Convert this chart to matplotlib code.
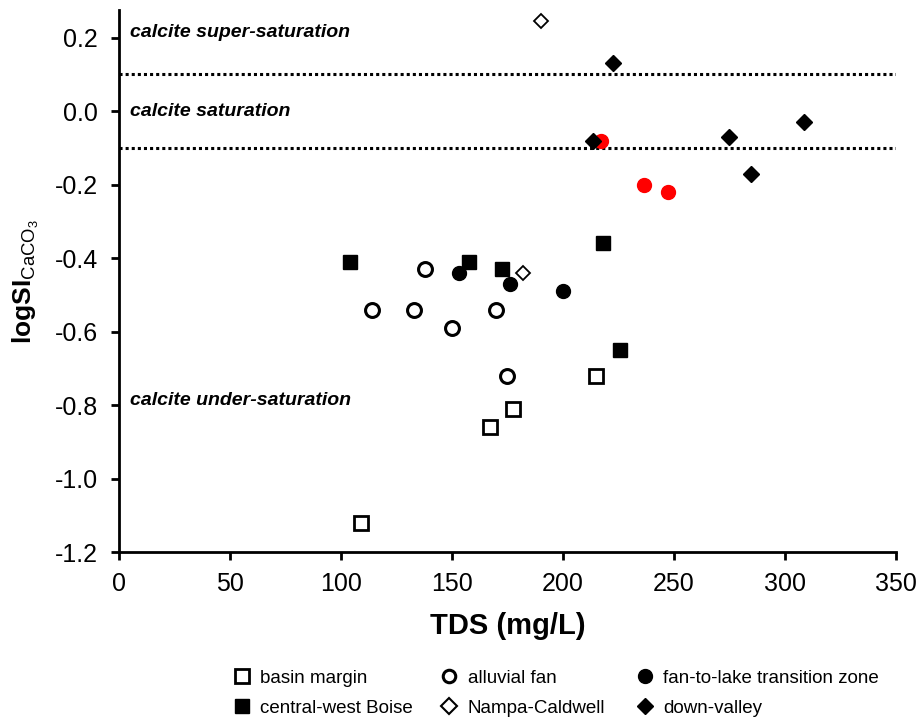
import matplotlib.pyplot as plt
from matplotlib.lines import Line2D

plt.rcParams['font.family'] = ['Liberation Sans', 'DejaVu Sans']
plt.rcParams['mathtext.fontset'] = 'custom'
plt.rcParams['mathtext.rm'] = 'Liberation Sans'
plt.rcParams['mathtext.bf'] = 'Liberation Sans:bold'

# TDS (mg/L) and logSI CaCO3 per group
basin_x = [109, 167, 177.5, 215]
basin_y = [-1.12, -0.86, -0.81, -0.72]
boise_x = [104, 157.5, 172.5, 218, 225.5]
boise_y = [-0.41, -0.41, -0.43, -0.36, -0.65]
fan_x = [114, 133, 138, 150, 170, 175]
fan_y = [-0.54, -0.54, -0.43, -0.59, -0.54, -0.72]
lake_x = [153, 176, 200]
lake_y = [-0.44, -0.47, -0.49]
lake_red_x = [217, 236.5, 247.5]
lake_red_y = [-0.08, -0.20, -0.22]
nampa_x = [190, 182]
nampa_y = [0.245, -0.44]
valley_x = [222.5, 213.5, 275, 284.5, 308.5]
valley_y = [0.13, -0.08, -0.07, -0.17, -0.03]

sat_upper = 0.1
sat_lower = -0.1

fig = plt.figure(figsize=(9.18, 7.19), dpi=100)
ax = fig.add_axes([0.1296, 0.232, 0.8464, 0.754])

ax.axhline(sat_upper, color='black', linestyle=(0, (1, 1)), linewidth=2.2, zorder=1)
ax.axhline(sat_lower, color='black', linestyle=(0, (1, 1)), linewidth=2.2, zorder=1)

ax.plot(basin_x, basin_y, 's', ms=9.5, mfc='white', mec='black', mew=2, ls='none')
ax.plot(boise_x, boise_y, 's', ms=9.5, color='black', ls='none')
ax.plot(fan_x, fan_y, 'o', ms=10, mfc='white', mec='black', mew=2.2, ls='none')
ax.plot(lake_x, lake_y, 'o', ms=10, color='black', ls='none')
ax.plot(lake_red_x, lake_red_y, 'o', ms=10, color='red', ls='none', zorder=2)
ax.plot(nampa_x, nampa_y, 'D', ms=7.5, mfc='white', mec='black', mew=1.3, ls='none')
ax.plot(valley_x, valley_y, 'D', ms=8.5, color='black', ls='none', zorder=3)

note_kw = dict(fontsize=14, fontweight='bold', fontstyle='italic', va='center')
ax.text(5, 0.213, 'calcite super-saturation', **note_kw)
ax.text(5, -0.002, 'calcite saturation', **note_kw)
ax.text(5, -0.787, 'calcite under-saturation', **note_kw)

yticks = [-1.2, -1.0, -0.8, -0.6, -0.4, -0.2, 0.0, 0.2]
ax.set_xlim(0, 350)
ax.set_ylim(-1.2, 0.275)
ax.set_xticks(range(0, 351, 50))
ax.set_yticks(yticks)
ax.set_yticklabels(['%.1f' % v for v in yticks])
ax.tick_params(labelsize=18, width=2, length=6, direction='out')
ax.tick_params(axis='x', pad=8)
ax.tick_params(axis='y', pad=9)
for s in ['top', 'right']:
    ax.spines[s].set_visible(False)
for s in ['left', 'bottom']:
    ax.spines[s].set_linewidth(2)

ax.set_xlabel('TDS (mg/L)', fontsize=21, fontweight='bold', labelpad=12)
ax.set_ylabel(r'$\mathbf{logSI}_{\mathrm{CaCO_3}}$', fontsize=19, labelpad=10)

# legend: three columns, two rows each
leg_cols = [
    ([Line2D([], [], marker='s', ms=10.5, mfc='white', mec='black', mew=2, ls='none'),
      Line2D([], [], marker='s', ms=10.5, color='black', ls='none')],
     ['basin margin', 'central-west Boise'], 0.255),
    ([Line2D([], [], marker='o', ms=9, mfc='white', mec='black', mew=2.2, ls='none'),
      Line2D([], [], marker='D', ms=8, mfc='white', mec='black', mew=1.5, ls='none')],
     ['alluvial fan', 'Nampa-Caldwell'], 0.481),
    ([Line2D([], [], marker='o', ms=10, color='black', ls='none'),
      Line2D([], [], marker='D', ms=8, color='black', ls='none')],
     ['fan-to-lake transition zone', 'down-valley'], 0.694),
]
for hs, ls, xpos in leg_cols:
    fig.legend(hs, ls, loc='upper left', bbox_to_anchor=(xpos, 0.069),
               frameon=False, fontsize=13.5, handlelength=0.8, handletextpad=0.6,
               labelspacing=0.71, borderpad=0, borderaxespad=0)

fig.savefig('out.png', dpi=100)
